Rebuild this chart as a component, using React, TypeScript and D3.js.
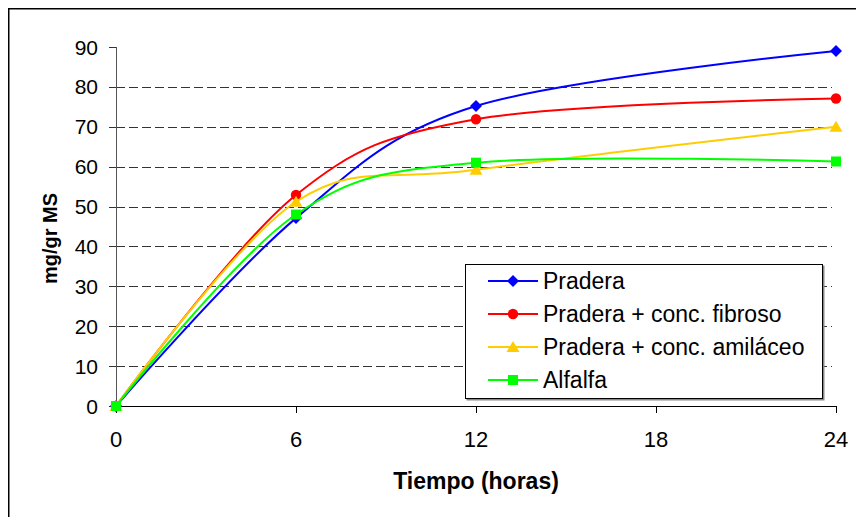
import * as d3 from 'd3'
import React from 'react'

// horas de incubación
const tiempos = [0, 6, 12, 24]

const pradera = [0, 47.1, 75.2, 89.0]
const praderaFibroso = [0, 52.9, 71.9, 77.1]
const praderaAmilaceo = [0, 51.2, 59.2, 70.0]
const alfalfa = [0, 48.0, 61.0, 61.3]

const seriesNames = ['Pradera', 'Pradera + conc. fibroso', 'Pradera + conc. amiláceo', 'Alfalfa']
const seriesColors = ['#0000FF', '#FF0000', '#FFCC00', '#00FF00']
const seriesMarkers = ['diamond', 'circle', 'triangle', 'square']

const xTicks = [0, 6, 12, 18, 24]
const yTicks = [0, 10, 20, 30, 40, 50, 60, 70, 80, 90]

const font = "'Liberation Sans', Arial, sans-serif"

const Marker = ({ kind, x, y, color }: { kind: string; x: number; y: number; color: string }) => {
  if (kind === 'diamond') {
    return <path d={`M${x},${y - 6}L${x + 6},${y}L${x},${y + 6}L${x - 6},${y}Z`} fill={color} />
  }
  if (kind === 'circle') {
    return <circle cx={x} cy={y} r={5.2} fill={color} />
  }
  if (kind === 'triangle') {
    return <path d={`M${x},${y - 6}L${x + 6.5},${y + 5}L${x - 6.5},${y + 5}Z`} fill={color} />
  }
  return <rect x={x - 5} y={y - 5} width={10} height={10} fill={color} />
}

export default function App() {
  const data = [pradera, praderaFibroso, praderaAmilaceo, alfalfa]

  const x = d3.scaleLinear().domain([0, 24]).range([116, 836])
  const y = d3.scaleLinear().domain([0, 90]).range([406, 47])

  const line = d3.line<number>()
    .x((d, i) => x(tiempos[i]))
    .y(d => y(d))
    .curve(d3.curveCardinal.tension(0))

  const legendX = 465
  const legendY = 264
  const rowY = (i: number) => legendY + 17 + i * 33

  return (
    <svg width={856} height={517} style={{ position: 'absolute', left: 0, top: 0 }} fontFamily={font}>
      <rect x={0} y={0} width={856} height={517} fill="#fff" />
      <rect x={8.75} y={8.75} width={900} height={600} fill="none" stroke="#000" strokeWidth={1.5} />

      {/* gridlines */}
      {yTicks.filter(t => t > 0 && t < 90).map(t => (
        <line key={'g' + t} x1={x(0)} x2={x(24) - 4} y1={Math.round(y(t)) + 0.5} y2={Math.round(y(t)) + 0.5}
          stroke="#333" strokeWidth={1} strokeDasharray="9,4" />
      ))}

      {/* y axis */}
      <line x1={x(0) + 0.5} x2={x(0) + 0.5} y1={y(90)} y2={y(0)} stroke="#555" strokeWidth={1} />
      {yTicks.map(t => (
        <g key={'y' + t}>
          <line x1={x(0) - 7} x2={x(0)} y1={Math.round(y(t)) + 0.5} y2={Math.round(y(t)) + 0.5} stroke="#333" />
          <text x={98} y={y(t) + 7.5} textAnchor="end" fontSize={21} fill="#000">{t}</text>
        </g>
      ))}
      <text transform={`translate(57,${y(42)}) rotate(-90)`} textAnchor="middle" fontSize={20} fontWeight="bold">mg/gr MS</text>

      {/* x axis */}
      <line x1={x(0)} x2={x(24)} y1={Math.round(y(0)) + 0.5} y2={Math.round(y(0)) + 0.5} stroke="#000" strokeWidth={1} />
      {xTicks.map(t => (
        <g key={'x' + t}>
          <line x1={Math.round(x(t)) + 0.5} x2={Math.round(x(t)) + 0.5} y1={y(0)} y2={y(0) + 7} stroke="#000" />
          <text x={x(t)} y={447} textAnchor="middle" fontSize={22} fill="#000">{t}</text>
        </g>
      ))}
      <text x={x(12)} y={489} textAnchor="middle" fontSize={23} fontWeight="bold">Tiempo (horas)</text>

      {/* series */}
      {data.map((vals, s) => (
        <g key={'s' + s}>
          <path d={line(vals) || ''} fill="none" stroke={seriesColors[s]} strokeWidth={2} />
          {vals.map((v, i) => (
            <Marker key={i} kind={seriesMarkers[s]} x={x(tiempos[i])} y={y(v)} color={seriesColors[s]} />
          ))}
        </g>
      ))}

      {/* legend */}
      <rect x={legendX + 1.5} y={legendY + 1.5} width={358} height={135} fill="#888" />
      <rect x={legendX + 0.5} y={legendY + 0.5} width={357} height={134} fill="#fff" stroke="#000" strokeWidth={1} />
      {seriesNames.map((name, i) => (
        <g key={'l' + i}>
          <line x1={488} x2={538} y1={rowY(i)} y2={rowY(i)} stroke={seriesColors[i]} strokeWidth={2} />
          <Marker kind={seriesMarkers[i]} x={513} y={rowY(i)} color={seriesColors[i]} />
          <text x={543} y={rowY(i) + 8} fontSize={23} fill="#000">{name}</text>
        </g>
      ))}
    </svg>
  )
}
